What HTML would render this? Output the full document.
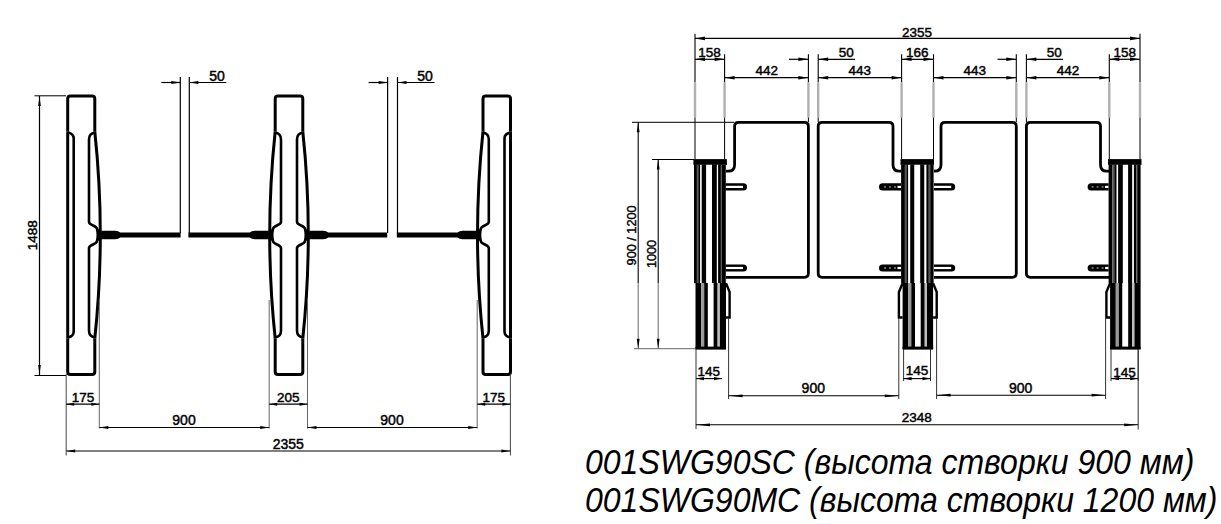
<!DOCTYPE html>
<html><head><meta charset="utf-8"><style>
html,body{margin:0;padding:0;background:#fff;width:1221px;height:524px;overflow:hidden;position:relative}
.cap{position:absolute;left:585px;top:442.7px;font:italic 32px "Liberation Sans", sans-serif;line-height:35px;white-space:pre;color:#000;transform:scaleY(1.1);transform-origin:0 0}
</style></head><body>
<svg width="1221" height="524" viewBox="0 0 1221 524" style="position:absolute;left:0;top:0"><g font-family="'Liberation Sans', sans-serif" fill="#000"><path d="M67.7,131.5 L67.7,98.8 Q67.7,96.0 70.5,96.0 L92.0,96.0 Q94.8,96.0 94.8,98.8 L94.8,131.5" stroke="#000" stroke-width="3.0" fill="none" /><path d="M67.7,338.5 L67.7,371.8 Q67.7,374.6 70.5,374.6 L92.0,374.6 Q94.8,374.6 94.8,371.8 L94.8,338.5" stroke="#000" stroke-width="3.0" fill="none" /><path d="M67.7,131.5 L67.7,338.5" stroke="#000" stroke-width="3.0" fill="none" /><path d="M67.7,132.5 Q73.7,133.5 73.7,138.5 L73.7,331.5 Q73.7,336.5 67.7,337.5" stroke="#000" stroke-width="2.6" fill="none" /><path d="M94.8,131.5 C98.0,161.5 100.3,195.0 100.3,235.0 C100.3,275.0 98.0,308.5 94.8,338.5" stroke="#000" stroke-width="3.0" fill="none" /><path d="M94.8,132.5 Q89.0,133.5 89.0,139.5 L89.0,222.0 C89.0,225.5 97.0,225.5 97.0,229.0 Q98.6,235.0 97.0,241.0 C97.0,244.5 89.0,244.5 89.0,248.0 L89.0,330.5 Q89.0,336.5 94.8,337.5" stroke="#000" stroke-width="2.6" fill="none" /><path d="M97.0,229.0 Q98.6,235.0 97.0,241.0 L100.3,240.0 L100.3,230.0 Z" fill="#000"/><path d="M275.2,131.5 L275.2,98.8 Q275.2,96.0 278.0,96.0 L300.0,96.0 Q302.8,96.0 302.8,98.8 L302.8,131.5" stroke="#000" stroke-width="3.0" fill="none" /><path d="M275.2,338.5 L275.2,371.8 Q275.2,374.6 278.0,374.6 L300.0,374.6 Q302.8,374.6 302.8,371.8 L302.8,338.5" stroke="#000" stroke-width="3.0" fill="none" /><path d="M275.2,131.5 C272.0,161.5 269.7,195.0 269.7,235.0 C269.7,275.0 272.0,308.5 275.2,338.5" stroke="#000" stroke-width="3.0" fill="none" /><path d="M275.2,132.5 Q281.0,133.5 281.0,139.5 L281.0,222.0 C281.0,225.5 273.0,225.5 273.0,229.0 Q271.4,235.0 273.0,241.0 C273.0,244.5 281.0,244.5 281.0,248.0 L281.0,330.5 Q281.0,336.5 275.2,337.5" stroke="#000" stroke-width="2.6" fill="none" /><path d="M273.0,229.0 Q271.4,235.0 273.0,241.0 L269.7,240.0 L269.7,230.0 Z" fill="#000"/><path d="M302.8,131.5 C306.0,161.5 308.3,195.0 308.3,235.0 C308.3,275.0 306.0,308.5 302.8,338.5" stroke="#000" stroke-width="3.0" fill="none" /><path d="M302.8,132.5 Q297.0,133.5 297.0,139.5 L297.0,222.0 C297.0,225.5 305.0,225.5 305.0,229.0 Q306.6,235.0 305.0,241.0 C305.0,244.5 297.0,244.5 297.0,248.0 L297.0,330.5 Q297.0,336.5 302.8,337.5" stroke="#000" stroke-width="2.6" fill="none" /><path d="M305.0,229.0 Q306.6,235.0 305.0,241.0 L308.3,240.0 L308.3,230.0 Z" fill="#000"/><path d="M483.0,131.5 L483.0,98.8 Q483.0,96.0 485.8,96.0 L507.7,96.0 Q510.5,96.0 510.5,98.8 L510.5,131.5" stroke="#000" stroke-width="3.0" fill="none" /><path d="M483.0,338.5 L483.0,371.8 Q483.0,374.6 485.8,374.6 L507.7,374.6 Q510.5,374.6 510.5,371.8 L510.5,338.5" stroke="#000" stroke-width="3.0" fill="none" /><path d="M483.0,131.5 C479.8,161.5 477.5,195.0 477.5,235.0 C477.5,275.0 479.8,308.5 483.0,338.5" stroke="#000" stroke-width="3.0" fill="none" /><path d="M483.0,132.5 Q488.8,133.5 488.8,139.5 L488.8,222.0 C488.8,225.5 480.8,225.5 480.8,229.0 Q479.2,235.0 480.8,241.0 C480.8,244.5 488.8,244.5 488.8,248.0 L488.8,330.5 Q488.8,336.5 483.0,337.5" stroke="#000" stroke-width="2.6" fill="none" /><path d="M480.8,229.0 Q479.2,235.0 480.8,241.0 L477.5,240.0 L477.5,230.0 Z" fill="#000"/><path d="M510.5,131.5 L510.5,338.5" stroke="#000" stroke-width="3.0" fill="none" /><path d="M510.5,132.5 Q504.5,133.5 504.5,138.5 L504.5,331.5 Q504.5,336.5 510.5,337.5" stroke="#000" stroke-width="2.6" fill="none" /><path d="M100.3,230.8 L115.3,230.8 Q118.3,230.8 120.3,232.6 L180.6,232.6 L180.6,237.4 L120.3,237.4 Q118.3,239.2 115.3,239.2 L100.3,239.2 Z" fill="#000"/><path d="M269.7,230.8 L254.7,230.8 Q251.7,230.8 249.7,232.6 L188.4,232.6 L188.4,237.4 L249.7,237.4 Q251.7,239.2 254.7,239.2 L269.7,239.2 Z" fill="#000"/><path d="M308.3,230.8 L323.3,230.8 Q326.3,230.8 328.3,232.6 L387.2,232.6 L387.2,237.4 L328.3,237.4 Q326.3,239.2 323.3,239.2 L308.3,239.2 Z" fill="#000"/><path d="M477.5,230.8 L462.5,230.8 Q459.5,230.8 457.5,232.6 L396.8,232.6 L396.8,237.4 L457.5,237.4 Q459.5,239.2 462.5,239.2 L477.5,239.2 Z" fill="#000"/><line x1="180.3" y1="77" x2="180.3" y2="233" stroke="#000" stroke-width="1.2"/><line x1="189.3" y1="77" x2="189.3" y2="233" stroke="#000" stroke-width="1.2"/><line x1="161.3" y1="82.5" x2="180.3" y2="82.5" stroke="#000" stroke-width="1.2"/><line x1="189.3" y1="82.5" x2="226.3" y2="82.5" stroke="#000" stroke-width="1.2"/><path d="M180.3,82.5 L171.3,80.9 L171.3,84.1 Z" fill="#000"/><path d="M189.3,82.5 L198.3,80.9 L198.3,84.1 Z" fill="#000"/><text x="217" y="80.8" font-size="14" text-anchor="middle" stroke="#000" stroke-width="0.45" >50</text><line x1="387.6" y1="77" x2="387.6" y2="233" stroke="#000" stroke-width="1.2"/><line x1="397.5" y1="77" x2="397.5" y2="233" stroke="#000" stroke-width="1.2"/><line x1="368.6" y1="82.5" x2="387.6" y2="82.5" stroke="#000" stroke-width="1.2"/><line x1="397.5" y1="82.5" x2="434.5" y2="82.5" stroke="#000" stroke-width="1.2"/><path d="M387.6,82.5 L378.6,80.9 L378.6,84.1 Z" fill="#000"/><path d="M397.5,82.5 L406.5,80.9 L406.5,84.1 Z" fill="#000"/><text x="425" y="80.8" font-size="14" text-anchor="middle" stroke="#000" stroke-width="0.45" >50</text><line x1="34.5" y1="95.8" x2="66" y2="95.8" stroke="#000" stroke-width="1"/><line x1="34.5" y1="375.5" x2="66" y2="375.5" stroke="#000" stroke-width="1"/><line x1="39.5" y1="96" x2="39.5" y2="375" stroke="#000" stroke-width="1.2"/><path d="M39.5,96 L38.2,106 L40.8,106 Z" fill="#000"/><path d="M39.5,375 L38.2,365 L40.8,365 Z" fill="#000"/><text x="0" y="0" font-size="13.5" text-anchor="middle" stroke="#000" stroke-width="0.45" transform="translate(36.6,235.2) rotate(-90)">1488</text><line x1="66.2" y1="374" x2="66.2" y2="455.5" stroke="#444" stroke-width="1"/><line x1="99.3" y1="300" x2="99.3" y2="428.5" stroke="#666" stroke-width="1"/><line x1="269.2" y1="300" x2="269.2" y2="428.5" stroke="#666" stroke-width="1"/><line x1="307.5" y1="300" x2="307.5" y2="428.5" stroke="#666" stroke-width="1"/><line x1="477.2" y1="300" x2="477.2" y2="428.5" stroke="#666" stroke-width="1"/><line x1="510.4" y1="374" x2="510.4" y2="455.5" stroke="#444" stroke-width="1"/><line x1="66.2" y1="404.2" x2="99.3" y2="404.2" stroke="#000" stroke-width="1.2"/><path d="M66.2,404.2 L74.2,402.7 L74.2,405.7 Z" fill="#000"/><path d="M99.3,404.2 L91.3,402.7 L91.3,405.7 Z" fill="#000"/><line x1="269.2" y1="404.2" x2="307.5" y2="404.2" stroke="#000" stroke-width="1.2"/><path d="M269.2,404.2 L277.2,402.7 L277.2,405.7 Z" fill="#000"/><path d="M307.5,404.2 L299.5,402.7 L299.5,405.7 Z" fill="#000"/><line x1="477.2" y1="404.2" x2="510.4" y2="404.2" stroke="#000" stroke-width="1.2"/><path d="M477.2,404.2 L485.2,402.7 L485.2,405.7 Z" fill="#000"/><path d="M510.4,404.2 L502.4,402.7 L502.4,405.7 Z" fill="#000"/><text x="83" y="401.8" font-size="13.5" text-anchor="middle" stroke="#000" stroke-width="0.45" >175</text><text x="288.3" y="401.8" font-size="13.5" text-anchor="middle" stroke="#000" stroke-width="0.45" >205</text><text x="493.8" y="401.8" font-size="13.5" text-anchor="middle" stroke="#000" stroke-width="0.45" >175</text><line x1="99.3" y1="427.5" x2="269.2" y2="427.5" stroke="#000" stroke-width="1.2"/><path d="M99.3,427.5 L108.3,426.0 L108.3,429.0 Z" fill="#000"/><path d="M269.2,427.5 L260.2,426.0 L260.2,429.0 Z" fill="#000"/><text x="184" y="424.8" font-size="14" text-anchor="middle" stroke="#000" stroke-width="0.45" >900</text><line x1="307.5" y1="427.5" x2="477.2" y2="427.5" stroke="#000" stroke-width="1.2"/><path d="M307.5,427.5 L316.5,426.0 L316.5,429.0 Z" fill="#000"/><path d="M477.2,427.5 L468.2,426.0 L468.2,429.0 Z" fill="#000"/><text x="392" y="424.8" font-size="14" text-anchor="middle" stroke="#000" stroke-width="0.45" >900</text><line x1="66.2" y1="451" x2="510.4" y2="451" stroke="#000" stroke-width="1.2"/><path d="M66.2,451 L75.2,449.5 L75.2,452.5 Z" fill="#000"/><path d="M510.4,451 L501.4,449.5 L501.4,452.5 Z" fill="#000"/><text x="288.3" y="449.2" font-size="14" text-anchor="middle" stroke="#000" stroke-width="0.45" >2355</text><line x1="695" y1="33.7" x2="695" y2="82.5" stroke="#000" stroke-width="1.1"/><line x1="695" y1="82.5" x2="695" y2="117.5" stroke="#b0b0b0" stroke-width="2.4"/><line x1="695" y1="117.5" x2="695" y2="159" stroke="#000" stroke-width="1.0"/><line x1="1140" y1="33.7" x2="1140" y2="82.5" stroke="#000" stroke-width="1.1"/><line x1="1140" y1="82.5" x2="1140" y2="117.5" stroke="#b0b0b0" stroke-width="2.4"/><line x1="1140" y1="117.5" x2="1140" y2="159" stroke="#000" stroke-width="1.0"/><line x1="724.6" y1="54.2" x2="724.6" y2="82.5" stroke="#000" stroke-width="1.1"/><line x1="724.6" y1="82.5" x2="724.6" y2="117.5" stroke="#b0b0b0" stroke-width="2.4"/><line x1="724.6" y1="117.5" x2="724.6" y2="159" stroke="#000" stroke-width="1.0"/><line x1="808.4" y1="54.2" x2="808.4" y2="82.5" stroke="#000" stroke-width="1.1"/><line x1="808.4" y1="82.5" x2="808.4" y2="117.5" stroke="#b0b0b0" stroke-width="2.4"/><line x1="808.4" y1="117.5" x2="808.4" y2="122" stroke="#000" stroke-width="1.0"/><line x1="818.2" y1="54.2" x2="818.2" y2="82.5" stroke="#000" stroke-width="1.1"/><line x1="818.2" y1="82.5" x2="818.2" y2="117.5" stroke="#b0b0b0" stroke-width="2.4"/><line x1="818.2" y1="117.5" x2="818.2" y2="122" stroke="#000" stroke-width="1.0"/><line x1="901.6" y1="54.2" x2="901.6" y2="82.5" stroke="#000" stroke-width="1.1"/><line x1="901.6" y1="82.5" x2="901.6" y2="117.5" stroke="#b0b0b0" stroke-width="2.4"/><line x1="901.6" y1="117.5" x2="901.6" y2="159" stroke="#000" stroke-width="1.0"/><line x1="933.5" y1="54.2" x2="933.5" y2="82.5" stroke="#000" stroke-width="1.1"/><line x1="933.5" y1="82.5" x2="933.5" y2="117.5" stroke="#b0b0b0" stroke-width="2.4"/><line x1="933.5" y1="117.5" x2="933.5" y2="159" stroke="#000" stroke-width="1.0"/><line x1="1016.3" y1="54.2" x2="1016.3" y2="82.5" stroke="#000" stroke-width="1.1"/><line x1="1016.3" y1="82.5" x2="1016.3" y2="117.5" stroke="#b0b0b0" stroke-width="2.4"/><line x1="1016.3" y1="117.5" x2="1016.3" y2="122" stroke="#000" stroke-width="1.0"/><line x1="1026.4" y1="54.2" x2="1026.4" y2="82.5" stroke="#000" stroke-width="1.1"/><line x1="1026.4" y1="82.5" x2="1026.4" y2="117.5" stroke="#b0b0b0" stroke-width="2.4"/><line x1="1026.4" y1="117.5" x2="1026.4" y2="122" stroke="#000" stroke-width="1.0"/><line x1="1109.3" y1="54.2" x2="1109.3" y2="82.5" stroke="#000" stroke-width="1.1"/><line x1="1109.3" y1="82.5" x2="1109.3" y2="117.5" stroke="#b0b0b0" stroke-width="2.4"/><line x1="1109.3" y1="117.5" x2="1109.3" y2="159" stroke="#000" stroke-width="1.0"/><line x1="695" y1="38.4" x2="1140" y2="38.4" stroke="#000" stroke-width="1.2"/><path d="M695,38.4 L705,36.6 L705,40.199999999999996 Z" fill="#000"/><path d="M1140,38.4 L1130,36.6 L1130,40.199999999999996 Z" fill="#000"/><text x="917" y="37.0" font-size="13.5" text-anchor="middle" stroke="#000" stroke-width="0.45" >2355</text><line x1="695" y1="59.3" x2="724.6" y2="59.3" stroke="#000" stroke-width="1.2"/><path d="M695,59.3 L705,57.5 L705,61.099999999999994 Z" fill="#000"/><path d="M724.6,59.3 L714.6,57.5 L714.6,61.099999999999994 Z" fill="#000"/><text x="709.5" y="57.2" font-size="13.5" text-anchor="middle" stroke="#000" stroke-width="0.45" >158</text><line x1="901.6" y1="59.3" x2="933.5" y2="59.3" stroke="#000" stroke-width="1.2"/><path d="M901.6,59.3 L911.6,57.5 L911.6,61.099999999999994 Z" fill="#000"/><path d="M933.5,59.3 L923.5,57.5 L923.5,61.099999999999994 Z" fill="#000"/><text x="917.3" y="57.2" font-size="13.5" text-anchor="middle" stroke="#000" stroke-width="0.45" >166</text><line x1="1109.3" y1="59.3" x2="1140" y2="59.3" stroke="#000" stroke-width="1.2"/><path d="M1109.3,59.3 L1119.3,57.5 L1119.3,61.099999999999994 Z" fill="#000"/><path d="M1140,59.3 L1130,57.5 L1130,61.099999999999994 Z" fill="#000"/><text x="1124.8" y="57.2" font-size="13.5" text-anchor="middle" stroke="#000" stroke-width="0.45" >158</text><line x1="789" y1="59.3" x2="808.4" y2="59.3" stroke="#000" stroke-width="1.2"/><line x1="818.2" y1="59.3" x2="855" y2="59.3" stroke="#000" stroke-width="1.2"/><path d="M808.4,59.3 L798.4,57.5 L798.4,61.099999999999994 Z" fill="#000"/><path d="M818.2,59.3 L828.2,57.5 L828.2,61.099999999999994 Z" fill="#000"/><text x="846.2" y="57.0" font-size="13.5" text-anchor="middle" stroke="#000" stroke-width="0.45" >50</text><line x1="997.5" y1="59.3" x2="1016.3" y2="59.3" stroke="#000" stroke-width="1.2"/><line x1="1026.4" y1="59.3" x2="1063" y2="59.3" stroke="#000" stroke-width="1.2"/><path d="M1016.3,59.3 L1006.3,57.5 L1006.3,61.099999999999994 Z" fill="#000"/><path d="M1026.4,59.3 L1036.4,57.5 L1036.4,61.099999999999994 Z" fill="#000"/><text x="1054.2" y="57.0" font-size="13.5" text-anchor="middle" stroke="#000" stroke-width="0.45" >50</text><line x1="724.6" y1="77.7" x2="808.4" y2="77.7" stroke="#000" stroke-width="1.2"/><path d="M724.6,77.7 L734.6,75.9 L734.6,79.5 Z" fill="#000"/><path d="M808.4,77.7 L798.4,75.9 L798.4,79.5 Z" fill="#000"/><text x="766.7" y="74.8" font-size="13.5" text-anchor="middle" stroke="#000" stroke-width="0.45" >442</text><line x1="818.2" y1="77.7" x2="901.6" y2="77.7" stroke="#000" stroke-width="1.2"/><path d="M818.2,77.7 L828.2,75.9 L828.2,79.5 Z" fill="#000"/><path d="M901.6,77.7 L891.6,75.9 L891.6,79.5 Z" fill="#000"/><text x="859.8" y="74.8" font-size="13.5" text-anchor="middle" stroke="#000" stroke-width="0.45" >443</text><line x1="933.5" y1="77.7" x2="1016.3" y2="77.7" stroke="#000" stroke-width="1.2"/><path d="M933.5,77.7 L943.5,75.9 L943.5,79.5 Z" fill="#000"/><path d="M1016.3,77.7 L1006.3,75.9 L1006.3,79.5 Z" fill="#000"/><text x="974.8" y="74.8" font-size="13.5" text-anchor="middle" stroke="#000" stroke-width="0.45" >443</text><line x1="1026.4" y1="77.7" x2="1109.3" y2="77.7" stroke="#000" stroke-width="1.2"/><path d="M1026.4,77.7 L1036.4,75.9 L1036.4,79.5 Z" fill="#000"/><path d="M1109.3,77.7 L1099.3,75.9 L1099.3,79.5 Z" fill="#000"/><text x="1068" y="74.8" font-size="13.5" text-anchor="middle" stroke="#000" stroke-width="0.45" >442</text><line x1="632" y1="122.3" x2="734" y2="122.3" stroke="#000" stroke-width="1.0"/><line x1="652" y1="159.5" x2="694" y2="159.5" stroke="#000" stroke-width="1.0"/><line x1="634" y1="348.7" x2="695" y2="348.7" stroke="#666" stroke-width="1.0"/><line x1="638.2" y1="122.3" x2="638.2" y2="283" stroke="#000" stroke-width="1.1"/><line x1="638.2" y1="283" x2="638.2" y2="348.7" stroke="#777" stroke-width="1.1"/><line x1="658.2" y1="159.5" x2="658.2" y2="283" stroke="#000" stroke-width="1.1"/><line x1="658.2" y1="283" x2="658.2" y2="348.7" stroke="#777" stroke-width="1.1"/><path d="M638.2,122.3 L636.8000000000001,132.3 L639.6,132.3 Z" fill="#000"/><path d="M638.2,348.7 L636.8000000000001,338.7 L639.6,338.7 Z" fill="#000"/><path d="M658.2,159.5 L656.8000000000001,169.5 L659.6,169.5 Z" fill="#000"/><path d="M658.2,348.7 L656.8000000000001,338.7 L659.6,338.7 Z" fill="#000"/><text x="0" y="0" font-size="12.7" text-anchor="middle" stroke="#000" stroke-width="0.4" transform="translate(635.6,235.4) rotate(-90)">900 / 1200</text><text x="0" y="0" font-size="12.7" text-anchor="middle" stroke="#000" stroke-width="0.4" transform="translate(655.5,254) rotate(-90)">1000</text><path d="M726,171.2 L728.1,171.2 Q734.6,171.2 734.6,164.7 L734.6,126.3 Q734.6,122.3 738.6,122.3 L804.4,122.3 Q808.4,122.3 808.4,126.3 L808.4,273.3 Q808.4,277.3 804.4,277.3 L726,277.3" stroke="#000" stroke-width="2.8" fill="none" /><path d="M901,171.2 L899.5,171.2 Q893,171.2 893,164.7 L893,126.3 Q893,122.3 889,122.3 L822.2,122.3 Q818.2,122.3 818.2,126.3 L818.2,273.3 Q818.2,277.3 822.2,277.3 L901,277.3" stroke="#000" stroke-width="2.8" fill="none" /><path d="M934,171.2 L934.5,171.2 Q941,171.2 941,164.7 L941,126.3 Q941,122.3 945,122.3 L1012.3,122.3 Q1016.3,122.3 1016.3,126.3 L1016.3,273.3 Q1016.3,277.3 1012.3,277.3 L934,277.3" stroke="#000" stroke-width="2.8" fill="none" /><path d="M1109,171.2 L1107.0,171.2 Q1100.5,171.2 1100.5,164.7 L1100.5,126.3 Q1100.5,122.3 1096.5,122.3 L1030.4,122.3 Q1026.4,122.3 1026.4,126.3 L1026.4,273.3 Q1026.4,277.3 1030.4,277.3 L1109,277.3" stroke="#000" stroke-width="2.8" fill="none" /><path d="M725.5,183.3 L743.4,183.3 A3.6,3.6 0 0 1 743.4,190.5 L725.5,190.5 Z" fill="#000"/><rect x="725.5" y="185.8" width="17.5" height="2.2" fill="#fff"/><path d="M901,183.3 L882.6,183.3 A3.6,3.6 0 0 0 882.6,190.5 L901,190.5 Z" fill="#000"/><rect x="897.5" y="185.8" width="3.5" height="2.2" fill="#fff"/><rect x="894" y="185.9" width="2" height="2" fill="#666"/><rect x="889" y="185.9" width="2" height="2" fill="#666"/><rect x="884" y="185.9" width="2" height="2" fill="#666"/><path d="M934,183.3 L951.6,183.3 A3.6,3.6 0 0 1 951.6,190.5 L934,190.5 Z" fill="#000"/><rect x="934" y="185.8" width="17.200000000000045" height="2.2" fill="#fff"/><path d="M1108.6,183.3 L1091.1999999999998,183.3 A3.6,3.6 0 0 0 1091.1999999999998,190.5 L1108.6,190.5 Z" fill="#000"/><rect x="1105.1" y="185.8" width="3.5" height="2.2" fill="#fff"/><rect x="1101.6" y="185.9" width="2" height="2" fill="#666"/><rect x="1096.6" y="185.9" width="2" height="2" fill="#666"/><rect x="1091.6" y="185.9" width="2" height="2" fill="#666"/><path d="M725.5,264.4 L743.4,264.4 A3.6,3.6 0 0 1 743.4,271.6 L725.5,271.6 Z" fill="#000"/><rect x="725.5" y="266.9" width="17.5" height="2.2" fill="#fff"/><path d="M901,264.4 L882.6,264.4 A3.6,3.6 0 0 0 882.6,271.6 L901,271.6 Z" fill="#000"/><rect x="897.5" y="266.9" width="3.5" height="2.2" fill="#fff"/><rect x="894" y="267.0" width="2" height="2" fill="#666"/><rect x="889" y="267.0" width="2" height="2" fill="#666"/><rect x="884" y="267.0" width="2" height="2" fill="#666"/><path d="M934,264.4 L951.6,264.4 A3.6,3.6 0 0 1 951.6,271.6 L934,271.6 Z" fill="#000"/><rect x="934" y="266.9" width="17.200000000000045" height="2.2" fill="#fff"/><path d="M1108.6,264.4 L1091.1999999999998,264.4 A3.6,3.6 0 0 0 1091.1999999999998,271.6 L1108.6,271.6 Z" fill="#000"/><rect x="1105.1" y="266.9" width="3.5" height="2.2" fill="#fff"/><rect x="1101.6" y="267.0" width="2" height="2" fill="#666"/><rect x="1096.6" y="267.0" width="2" height="2" fill="#666"/><rect x="1091.6" y="267.0" width="2" height="2" fill="#666"/><rect x="693.4" y="159.1" width="33.5" height="5.8" fill="#000"/><rect x="694.0" y="164.8" width="2.9" height="118.3" fill="#000"/><rect x="696.9" y="164.8" width="1.4" height="118.3" fill="#555"/><rect x="698.3" y="164.8" width="2.0" height="118.3" fill="#000"/><rect x="700.3" y="164.8" width="1.4000000000000004" height="118.3" fill="#fff"/><rect x="701.7" y="164.8" width="4.6000000000000005" height="118.3" fill="#000"/><rect x="706.3" y="164.8" width="5.699999999999999" height="118.3" fill="#fff"/><rect x="712.0" y="164.8" width="4.899999999999999" height="118.3" fill="#000"/><rect x="716.9" y="164.8" width="1.2000000000000028" height="118.3" fill="#fff"/><rect x="718.1" y="164.8" width="2.799999999999997" height="118.3" fill="#000"/><rect x="720.9" y="164.8" width="0.9000000000000021" height="118.3" fill="#555"/><rect x="721.8" y="164.8" width="4.0" height="118.3" fill="#000"/><rect x="695.5" y="283" width="5.7" height="66" fill="#000"/><rect x="701.2" y="283" width="2.999999999999999" height="66" fill="#999"/><rect x="704.2" y="283" width="3.700000000000001" height="66" fill="#000"/><rect x="707.9" y="283" width="5.700000000000001" height="66" fill="#fff"/><rect x="713.6" y="283" width="4.0" height="66" fill="#000"/><rect x="717.6" y="283" width="2.299999999999997" height="66" fill="#bbb"/><rect x="719.9" y="283" width="6.100000000000001" height="66" fill="#000"/><rect x="695.5" y="346.6" width="30.5" height="3" fill="#000"/><path d="M726.0,283.3 L729.6,292 L729.6,317.5 L726.0,317.5" stroke="#000" stroke-width="2.4" fill="none" /><rect x="900.5" y="159.1" width="33.5" height="5.8" fill="#000"/><rect x="901.1" y="164.8" width="3.8" height="118.3" fill="#000"/><rect x="904.9" y="164.8" width="1.5" height="118.3" fill="#555"/><rect x="906.4" y="164.8" width="1.9000000000000004" height="118.3" fill="#000"/><rect x="908.3000000000001" y="164.8" width="1.8999999999999995" height="118.3" fill="#fff"/><rect x="910.2" y="164.8" width="4.300000000000001" height="118.3" fill="#000"/><rect x="914.5" y="164.8" width="5.700000000000001" height="118.3" fill="#fff"/><rect x="920.2" y="164.8" width="4.299999999999997" height="118.3" fill="#000"/><rect x="924.5" y="164.8" width="1.9000000000000021" height="118.3" fill="#fff"/><rect x="926.4" y="164.8" width="2.3999999999999986" height="118.3" fill="#000"/><rect x="928.8000000000001" y="164.8" width="1.4000000000000021" height="118.3" fill="#555"/><rect x="930.2" y="164.8" width="3.3999999999999986" height="118.3" fill="#000"/><rect x="902.6" y="283" width="5.7" height="66" fill="#000"/><rect x="908.3000000000001" y="283" width="2.999999999999999" height="66" fill="#999"/><rect x="911.3000000000001" y="283" width="3.700000000000001" height="66" fill="#000"/><rect x="915.0" y="283" width="5.700000000000001" height="66" fill="#fff"/><rect x="920.7" y="283" width="4.0" height="66" fill="#000"/><rect x="924.7" y="283" width="2.299999999999997" height="66" fill="#bbb"/><rect x="927.0" y="283" width="6.100000000000001" height="66" fill="#000"/><rect x="902.6" y="346.6" width="30.5" height="3" fill="#000"/><path d="M902.6,283.3 L898.9,292 L898.9,317.5 L902.6,317.5" stroke="#000" stroke-width="2.4" fill="none" /><path d="M933.1,283.3 L936.7,292 L936.7,317.5 L933.1,317.5" stroke="#000" stroke-width="2.4" fill="none" /><rect x="1108.0" y="159.1" width="33.5" height="5.8" fill="#000"/><rect x="1108.6" y="164.8" width="3.8" height="118.3" fill="#000"/><rect x="1112.3999999999999" y="164.8" width="1.9000000000000004" height="118.3" fill="#555"/><rect x="1114.3" y="164.8" width="2.3999999999999995" height="118.3" fill="#000"/><rect x="1116.6999999999998" y="164.8" width="1.4000000000000004" height="118.3" fill="#fff"/><rect x="1118.1" y="164.8" width="4.800000000000001" height="118.3" fill="#000"/><rect x="1122.8999999999999" y="164.8" width="5.199999999999999" height="118.3" fill="#fff"/><rect x="1128.1" y="164.8" width="4.300000000000001" height="118.3" fill="#000"/><rect x="1132.3999999999999" y="164.8" width="1.5" height="118.3" fill="#fff"/><rect x="1133.8999999999999" y="164.8" width="2.3999999999999986" height="118.3" fill="#000"/><rect x="1136.3" y="164.8" width="0.9000000000000021" height="118.3" fill="#555"/><rect x="1137.1999999999998" y="164.8" width="3.3999999999999986" height="118.3" fill="#000"/><rect x="1110.1" y="283" width="5.7" height="66" fill="#000"/><rect x="1115.8" y="283" width="2.999999999999999" height="66" fill="#999"/><rect x="1118.8" y="283" width="3.700000000000001" height="66" fill="#000"/><rect x="1122.5" y="283" width="5.700000000000001" height="66" fill="#fff"/><rect x="1128.1999999999998" y="283" width="4.0" height="66" fill="#000"/><rect x="1132.1999999999998" y="283" width="2.299999999999997" height="66" fill="#bbb"/><rect x="1134.5" y="283" width="6.100000000000001" height="66" fill="#000"/><rect x="1110.1" y="346.6" width="30.5" height="3" fill="#000"/><path d="M1110.1,283.3 L1106.3999999999999,292 L1106.3999999999999,317.5 L1110.1,317.5" stroke="#000" stroke-width="2.4" fill="none" /><line x1="696" y1="349" x2="696" y2="429" stroke="#333" stroke-width="1.0"/><line x1="1138.2" y1="349" x2="1138.2" y2="429.5" stroke="#333" stroke-width="1.0"/><line x1="728.6" y1="318" x2="728.6" y2="399" stroke="#333" stroke-width="1.0"/><line x1="898.8" y1="318" x2="898.8" y2="399" stroke="#333" stroke-width="1.0"/><line x1="936.6" y1="318" x2="936.6" y2="399" stroke="#333" stroke-width="1.0"/><line x1="1105.6" y1="318" x2="1105.6" y2="399" stroke="#333" stroke-width="1.0"/><line x1="903.6" y1="349" x2="903.6" y2="381" stroke="#333" stroke-width="1.0"/><line x1="930.5" y1="349" x2="930.5" y2="381" stroke="#333" stroke-width="1.0"/><line x1="1111" y1="349" x2="1111" y2="381" stroke="#333" stroke-width="1.0"/><line x1="1138.2" y1="349" x2="1138.2" y2="381" stroke="#333" stroke-width="1.0"/><line x1="696" y1="378.6" x2="722" y2="378.6" stroke="#000" stroke-width="1.1"/><path d="M696,378.6 L704,377.0 L704,380.20000000000005 Z" fill="#000"/><path d="M722,378.6 L714,377.0 L714,380.20000000000005 Z" fill="#000"/><text x="708.8" y="375.6" font-size="13.5" text-anchor="middle" stroke="#000" stroke-width="0.45" >145</text><line x1="903.6" y1="378.6" x2="930.5" y2="378.6" stroke="#000" stroke-width="1.1"/><path d="M903.6,378.6 L911.6,377.0 L911.6,380.20000000000005 Z" fill="#000"/><path d="M930.5,378.6 L922.5,377.0 L922.5,380.20000000000005 Z" fill="#000"/><text x="917" y="375.2" font-size="13.5" text-anchor="middle" stroke="#000" stroke-width="0.45" >145</text><line x1="1111" y1="378.6" x2="1138.2" y2="378.6" stroke="#000" stroke-width="1.1"/><path d="M1111,378.6 L1119,377.0 L1119,380.20000000000005 Z" fill="#000"/><path d="M1138.2,378.6 L1130.2,377.0 L1130.2,380.20000000000005 Z" fill="#000"/><text x="1124.6" y="376.8" font-size="13.5" text-anchor="middle" stroke="#000" stroke-width="0.45" >145</text><line x1="728.6" y1="395.8" x2="898.8" y2="395.8" stroke="#000" stroke-width="1.1"/><path d="M728.6,395.8 L742.6,394.40000000000003 L742.6,397.2 Z" fill="#000"/><path d="M898.8,395.8 L884.8,394.40000000000003 L884.8,397.2 Z" fill="#000"/><text x="813.3" y="392.8" font-size="14" text-anchor="middle" stroke="#000" stroke-width="0.45" >900</text><line x1="936.6" y1="395.2" x2="1105.6" y2="395.2" stroke="#000" stroke-width="1.1"/><path d="M936.6,395.2 L950.6,393.8 L950.6,396.59999999999997 Z" fill="#000"/><path d="M1105.6,395.2 L1091.6,393.8 L1091.6,396.59999999999997 Z" fill="#000"/><text x="1020.6" y="392.8" font-size="14" text-anchor="middle" stroke="#000" stroke-width="0.45" >900</text><line x1="696" y1="424.8" x2="1138.2" y2="424.8" stroke="#000" stroke-width="1.1"/><path d="M696,424.8 L710,423.40000000000003 L710,426.2 Z" fill="#000"/><path d="M1138.2,424.8 L1124.2,423.40000000000003 L1124.2,426.2 Z" fill="#000"/><text x="916.8" y="422.4" font-size="13.5" text-anchor="middle" stroke="#000" stroke-width="0.45" >2348</text></g></svg>
<div class="cap">001SWG90SC (высота створки 900 мм)
001SWG90MC (высота створки 1200 мм)</div>
</body></html>
